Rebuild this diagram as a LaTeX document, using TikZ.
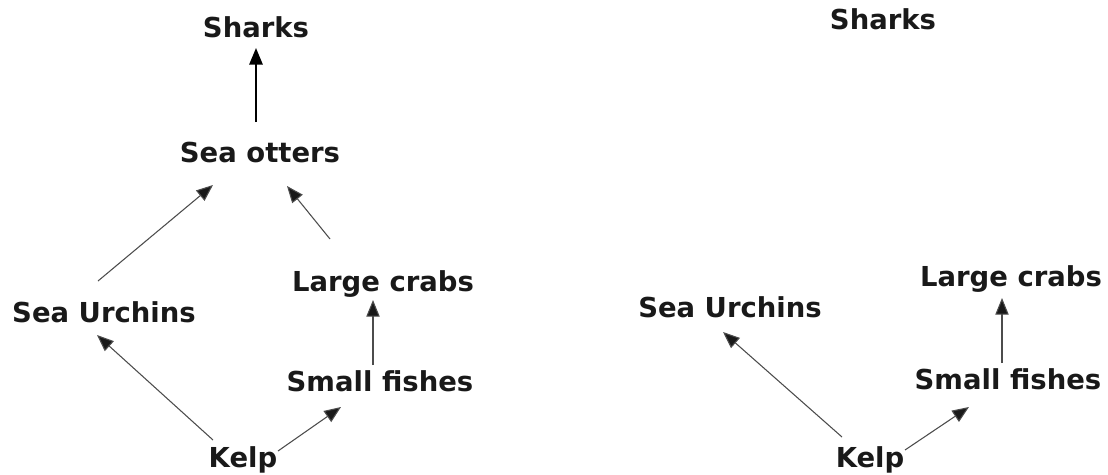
\documentclass[tikz,border=0pt]{standalone}
\usepackage{fontspec}
\setmainfont{DejaVu Sans}
\usetikzlibrary{arrows.meta,calc}
\begin{document}
\begin{tikzpicture}[x=0.75pt,y=-0.75pt,
  lbl/.style={anchor=base,inner sep=0pt,font=\fontsize{20.6}{24}\selectfont\bfseries,text=black!90},
  thinarr/.style={draw=black!70,line width=0.8pt,-{Triangle[length=12.5pt,width=10pt,fill=black!90]}},
  thickarr/.style={draw=black,line width=1.5pt,-{Triangle[length=12.5pt,width=10pt]}}]
\useasboundingbox (0,0) rectangle (1108,475);
% left panel
\node[lbl] (sharksL) at (256,37.5) {Sharks};
\node[lbl] (ottersL) at (260,162) {Sea otters};
\node[lbl] (crabsL) at (383,291) {Large crabs};
\node[lbl] (urchL) at (104,322) {Sea Urchins};
\node[lbl] (fishL) at (380,391) {Small fishes};
\node[lbl] (kelpL) at (243,467) {Kelp};
\draw[thickarr] ($(ottersL.base)+(-4,-40)$) -- ($(sharksL.base)+(0,10.5)$);
\draw[thinarr] ($(urchL.base)+(-6,-41)$) -- ($(ottersL.base)+(-47,23)$);
\draw[thinarr] ($(crabsL.base)+(-53,-52)$) -- ($(ottersL.base)+(27,24)$);
\draw[thinarr] ($(kelpL.base)+(-30,-27)$) -- ($(urchL.base)+(-7,13)$);
\draw[thinarr] ($(fishL.base)+(-7,-26)$) -- ($(crabsL.base)+(-10,9)$);
\draw[thinarr] ($(kelpL.base)+(35,-16)$) -- ($(fishL.base)+(-39,16)$);
% right panel
\node[lbl] (sharksR) at (883,29.5) {Sharks};
\node[lbl] (crabsR) at (1011,286) {Large crabs};
\node[lbl] (urchR) at (730,317) {Sea Urchins};
\node[lbl] (fishR) at (1008,389) {Small fishes};
\node[lbl] (kelpR) at (870,467) {Kelp};
\draw[thinarr] ($(kelpR.base)+(-28,-30)$) -- ($(urchR.base)+(-7,15)$);
\draw[thinarr] ($(fishR.base)+(-6,-26)$) -- ($(crabsR.base)+(-9,12)$);
\draw[thinarr] ($(kelpR.base)+(35,-17)$) -- ($(fishR.base)+(-39,18)$);
\end{tikzpicture}
\end{document}
